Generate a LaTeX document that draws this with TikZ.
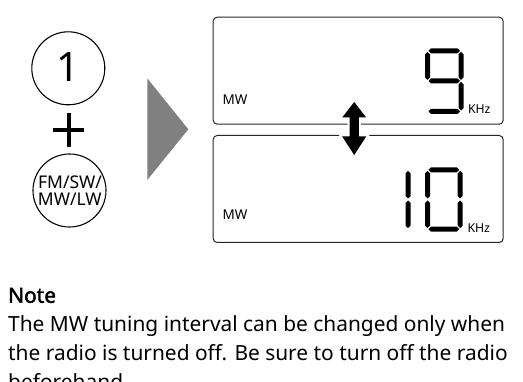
\documentclass[tikz,border=0pt]{standalone}
\usepackage{fontspec}
\setmainfont{Noto Sans}
\newfontfamily\notebf{Noto Sans}[FakeBold=2.2]
\newcommand\segH{2.5}
\newcommand\segG{1}
% horizontal segment: x1, x2, y
\newcommand\lcdh[3]{\fill[lcdseg] (#1+\segG,#3) -- (#1+\segG+\segH,#3-\segH) -- (#2-\segG-\segH,#3-\segH) -- (#2-\segG,#3) -- (#2-\segG-\segH,#3+\segH) -- (#1+\segG+\segH,#3+\segH) -- cycle;}
% vertical segment: x, y1, y2
\newcommand\lcdv[3]{\fill[lcdseg] (#1,#2+\segG) -- (#1+\segH,#2+\segG+\segH) -- (#1+\segH,#3-\segG-\segH) -- (#1,#3-\segG) -- (#1-\segH,#3-\segG-\segH) -- (#1-\segH,#2+\segG+\segH) -- cycle;}
\begin{document}
\begin{tikzpicture}[x=1pt,y=-1pt,
  lcdbox/.style={draw=black!85,line width=1pt,rounded corners=4pt,minimum width=290pt,minimum height=107pt,anchor=north west,inner sep=0pt},
  lcdseg/.style={fill=black},
  keycirc/.style={draw=black,line width=1.1pt,circle,minimum size=73pt,inner sep=0pt},
  txt/.style={inner sep=0pt,anchor=base west},
  keytxt/.style={inner sep=0pt,anchor=base,text height=12.5pt,text depth=0.3pt,font=\fontsize{17.5}{16.7}\selectfont},
  small/.style={txt,font=\fontsize{13.5}{14}\selectfont},
  unit/.style={txt,font=\fontsize{12.3}{13}\selectfont},
  body/.style={txt,font=\fontsize{20.9}{29}\selectfont}]
\useasboundingbox (0,0) rectangle (523,382);
% key circles
\node[keycirc] (k1) at (68.3,68.3) {};
\node[inner sep=0pt,font=\fontsize{40.5}{41}\selectfont] (k1t) at (68.3,67.3) {1};
\node[keycirc] (k2) at (69.5,190.5) {};
\node[keytxt] (k2a) at (70,188.4) {FM/SW/};
\node[keytxt] (k2b) at (69.8,205.1) {MW/LW};
% plus
\coordinate (pc) at (68.6,130);
\draw[line width=3.8pt] ([xshift=-15.3pt]pc) -- ([xshift=15.3pt]pc);
\draw[line width=3.8pt] ([yshift=16.7pt]pc) -- ([yshift=-16.7pt]pc);
% big grey triangle
\fill[fill=black!50] (147.3,78.3) -- (188.3,129.3) -- (147.3,180) -- cycle;
% LCD boxes
\node[lcdbox] (box1) at (212.7,16.7) {};
\node[lcdbox] (box2) at (212.7,135) {};
% double arrow
\fill[black,preaction={draw=white,line width=4pt}] (354.2,102) -- (366.2,117.5) -- (358.9,117.5) -- (358.9,136.5) -- (366.2,136.5) -- (354.2,155) -- (342.2,136.5) -- (349.5,136.5) -- (349.5,117.5) -- (342.2,117.5) -- cycle;
% labels
\node[small] (mw1) at (222.5,104.5) {MW};
\node[small] (mw2) at (222.5,220) {MW};
\node[unit] (khz1) at (467.8,114) {KHz};
\node[unit] (khz2) at (467.3,232.3) {KHz};
% digit 9
\lcdh{427.5}{461}{50.8}
\lcdv{427.5}{50.8}{81}
\lcdv{461}{50.8}{81}
\lcdh{427.5}{461}{81}
\lcdv{461}{81}{111.5}
\lcdh{427.5}{461}{111.5}
% digit 1
\lcdv{408}{169.8}{199.5}
\lcdv{408}{199.5}{229.2}
% digit 0
\lcdh{427.5}{460.2}{169.8}
\lcdv{460.2}{169.8}{199.5}
\lcdv{460.2}{199.5}{229.2}
\lcdh{427.5}{460.2}{229.2}
\lcdv{427.5}{199.5}{229.2}
\lcdv{427.5}{169.8}{199.5}
% note
\node[txt,font=\fontsize{20.9}{29}\notebf] (note) at (8,302.7) {Note};
\node[body] (l1) at (8,331.7) {The MW tuning interval can be changed only when};
\node[body] (l2) at (8,360.7) {the radio is turned off. Be sure to turn off the radio};
\node[body] (l3) at (8,389.7) {beforehand.};
\end{tikzpicture}
\end{document}
